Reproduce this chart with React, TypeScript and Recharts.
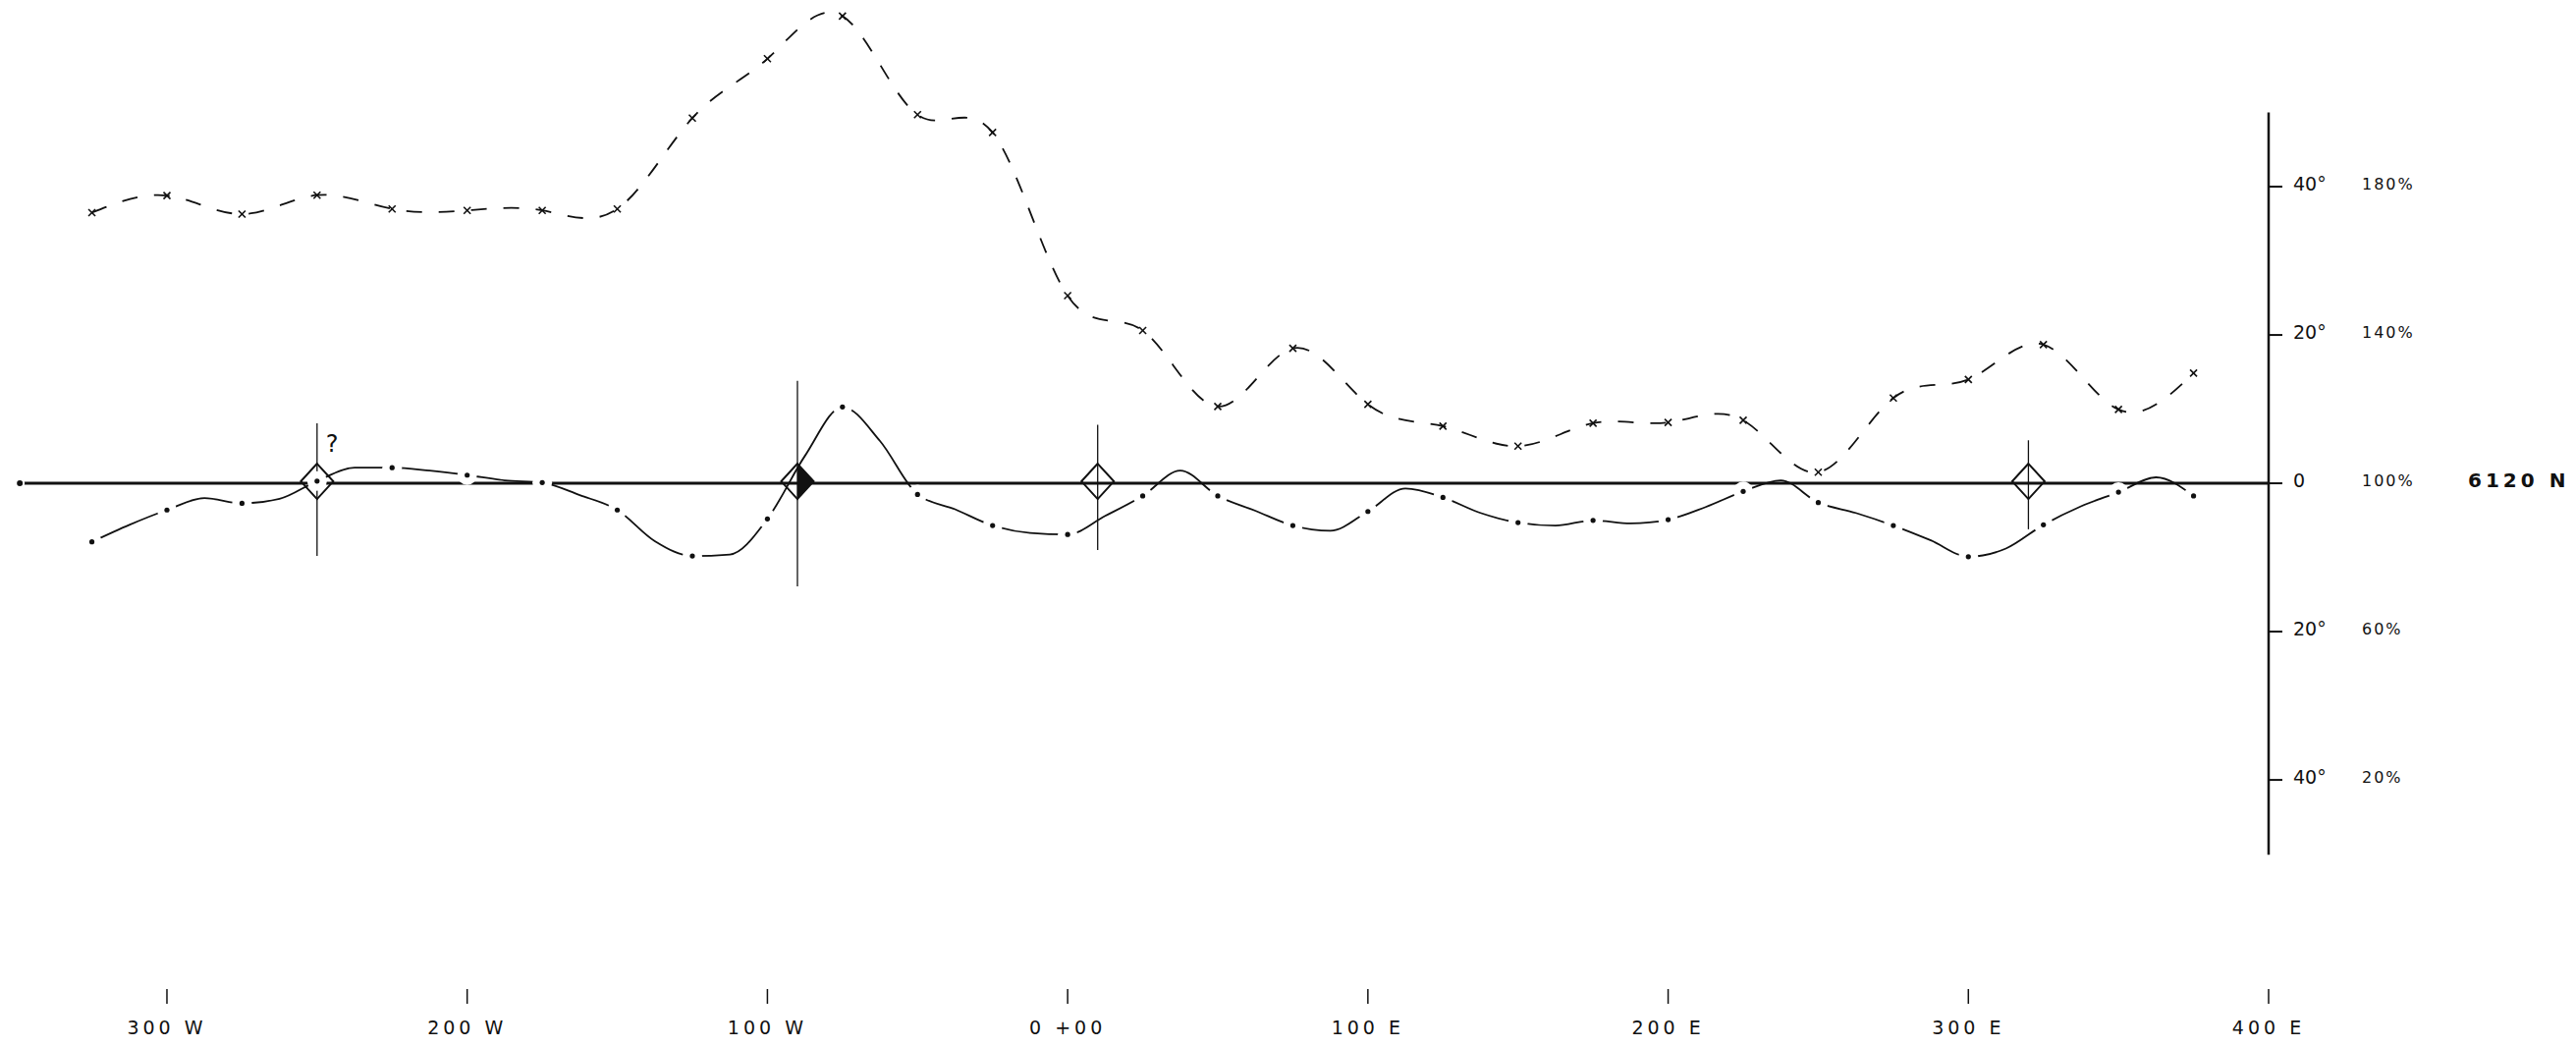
import React from "react"
import { ComposedChart, Line, Scatter, XAxis, YAxis, ReferenceLine, ReferenceDot } from "recharts"

// stations along line 6120 N (feet, west negative)
const stationTicks = [-300, -200, -100, 0, 100, 200, 300, 400]
const stationLabels = ["300 W", "200 W", "100 W", "0 +00", "100 E", "200 E", "300 E", "400 E"]

// field strength readings, percent
const fieldStations = [-325, -300, -275, -250, -225, -200, -175, -150, -125, -100, -75, -50, -25, 0, 25, 50, 75, 100, 125, 150, 175, 200, 225, 250, 275, 300, 325, 350, 375]
const fieldPct = [173, 177.6, 172.6, 177.7, 174, 173.6, 173.6, 174, 198.5, 214.5, 226, 199.4, 194.6, 150.6, 141.2, 120.7, 136.4, 121.3, 115.4, 110, 116.2, 116.4, 117, 103, 123, 128, 137.4, 119.9, 129.7]

// dip angle, degrees (readings every 25 ft, curve read at half stations too)
const dipStations = [-325, -312.5, -300, -287.5, -275, -262.5, -250, -237.5, -225, -212.5, -200, -187.5, -175, -162.5, -150, -137.5, -125, -112.5, -100, -87.5, -75, -62.5, -50, -37.5, -25, -12.5, 0, 12.5, 25, 37.5, 50, 62.5, 75, 87.5, 100, 112.5, 125, 137.5, 150, 162.5, 175, 187.5, 200, 212.5, 225, 237.5, 250, 262.5, 275, 287.5, 300, 312.5, 325, 337.5, 350, 362.5, 375]
const dipDeg = [-7.9, -5.6, -3.6, -2.0, -2.7, -2.1, 0.3, 2.1, 2.1, 1.7, 1.1, 0.4, 0.1, -1.6, -3.6, -7.8, -9.8, -9.6, -4.8, 3.7, 10.3, 5.7, -1.5, -3.5, -5.7, -6.7, -6.9, -4.4, -1.7, 1.7, -1.7, -3.7, -5.7, -6.4, -3.8, -0.7, -1.9, -4.0, -5.3, -5.7, -5.0, -5.4, -4.9, -3.2, -1.1, 0.4, -2.6, -4.0, -5.7, -7.7, -9.9, -8.8, -5.6, -3.1, -1.2, 0.8, -1.7]

// conductor axes: station, extent of the marker line (deg), solid marker
const axisStations = [-250, -90, 10, 320]
const axisTop = [8.1, 13.8, 7.9, 5.8]
const axisBottom = [-9.8, -13.9, -9.0, -6.2]
const axisFilled = [false, true, false, false]

// right hand scale
const scaleTicks = [40, 20, 0, -20, -40]
const degLabels = ["40°", "20°", "0", "20°", "40°"]
const pctLabels = ["180%", "140%", "100%", "60%", "20%"]
const lineName = "6120 N"

const DEG_DOMAIN: [number, number] = [-68.2, 65.17]
const PCT_DOMAIN: [number, number] = [100 + 2 * DEG_DOMAIN[0], 100 + 2 * DEG_DOMAIN[1]]
const X_DOMAIN: [number, number] = [-355.6, 400]

const INK = "#111"
const FONT = "'DejaVu Sans', sans-serif"

const fieldData = fieldStations.map((s, i) => ({ s, v: fieldPct[i] }))
const dipData = dipStations.map((s, i) => ({ s, v: dipDeg[i] }))
const zeroData = [{ s: -349, v: 0 }, { s: 400, v: 0 }]
const axisData = axisStations.map((s, i) => ({ s, v: 0, filled: axisFilled[i] }))

const StationTick = ({ x, y, payload }: any) => {
  const i = stationTicks.indexOf(payload.value)
  return (
    <text x={x} y={y + 31} textAnchor="middle" fontFamily={FONT} fontSize={19} letterSpacing={4} fill={INK}>
      {stationLabels[i]}
    </text>
  )
}

const ScaleTick = ({ x, y, payload }: any) => {
  const i = scaleTicks.indexOf(payload.value)
  return (
    <g fontFamily={FONT} fill={INK}>
      <text x={x + 11} y={y - 3} dominantBaseline="central" fontSize={19}>{degLabels[i]}</text>
      <text x={x + 81} y={y - 3} dominantBaseline="central" fontSize={16} letterSpacing={2}>{pctLabels[i]}</text>
      {payload.value === 0 && (
        <text x={x + 189} y={y - 3} dominantBaseline="central" fontSize={20} fontWeight="bold" letterSpacing={4}>
          {lineName}
        </text>
      )}
    </g>
  )
}

const Cross = ({ cx, cy }: any) => (
  <g stroke={INK} strokeWidth={1.6}>
    <line x1={cx - 3.5} y1={cy - 3.5} x2={cx + 3.5} y2={cy + 3.5} />
    <line x1={cx + 3.5} y1={cy - 3.5} x2={cx - 3.5} y2={cy + 3.5} />
  </g>
)

// reading dot with a break in the curve around it
const DipDot = ({ cx, cy, payload }: any) => {
  if (payload.s % 25 !== 0) return <g />
  return (
    <g>
      <circle cx={cx} cy={cy} r={10} fill="#fff" />
      <circle cx={cx} cy={cy} r={2.6} fill={INK} />
    </g>
  )
}

const Diamond = ({ cx, cy, payload }: any) => {
  const w = 16.5
  const h = 18
  const c = cy - 2
  return (
    <g>
      {payload.filled && <path d={`M${cx},${c - h} L${cx + w},${c} L${cx},${c + h} Z`} fill={INK} />}
      <path
        d={`M${cx},${c - h} L${cx + w},${c} L${cx},${c + h} L${cx - w},${c} Z`}
        fill="none"
        stroke={INK}
        strokeWidth={2}
      />
    </g>
  )
}

export default function App() {
  return (
    <div style={{ position: "absolute", left: 0, top: 0, width: 2623, height: 1066, background: "#fff" }}>
      <ComposedChart width={2623} height={1066} margin={{ top: 0, right: 0, bottom: 0, left: 0 }}>
        <XAxis
          dataKey="s"
          type="number"
          domain={X_DOMAIN}
          ticks={stationTicks}
          interval={0}
          height={59}
          axisLine={false}
          tickSize={15}
          tickMargin={0}
          tickLine={{ stroke: INK, strokeWidth: 1.5 }}
          tick={<StationTick />}
        />
        <YAxis
          yAxisId="deg"
          orientation="right"
          type="number"
          domain={DEG_DOMAIN}
          ticks={scaleTicks}
          interval={0}
          width={313}
          axisLine={false}
          tickSize={14}
          tickMargin={0}
          tickLine={{ stroke: INK, strokeWidth: 2 }}
          tick={<ScaleTick />}
        />
        <YAxis yAxisId="pct" type="number" domain={PCT_DOMAIN} hide />

        <ReferenceLine
          yAxisId="deg"
          segment={[{ x: 400, y: 50 }, { x: 400, y: -50.1 }]}
          stroke={INK}
          strokeWidth={2.5}
          ifOverflow="visible"
        />

        <Line
          yAxisId="pct"
          data={fieldData}
          dataKey="v"
          type="natural"
          stroke={INK}
          strokeWidth={1.8}
          strokeDasharray="16 17"
          dot={<Cross />}
          isAnimationActive={false}
        />
        <Line
          yAxisId="deg"
          data={dipData}
          dataKey="v"
          type="monotoneX"
          stroke={INK}
          strokeWidth={1.8}
          dot={<DipDot />}
          isAnimationActive={false}
        />
        <Line
          yAxisId="deg"
          data={zeroData}
          dataKey="v"
          stroke={INK}
          strokeWidth={3}
          dot={false}
          isAnimationActive={false}
        />
        {axisStations.map((s, i) => (
          <Line
            key={s}
            yAxisId="deg"
            data={[{ s, v: axisTop[i] }, { s, v: axisBottom[i] }]}
            dataKey="v"
            stroke={INK}
            strokeWidth={1.3}
            dot={false}
            isAnimationActive={false}
          />
        ))}
        <Scatter yAxisId="deg" data={axisData} dataKey="v" shape={<Diamond />} isAnimationActive={false} />

        <ReferenceDot
          yAxisId="deg"
          x={-245}
          y={5.3}
          r={0}
          shape={(p: any) => (
            <text x={p.cx} y={p.cy} textAnchor="middle" dominantBaseline="central" fontFamily={FONT} fontSize={24} fill={INK}>
              ?
            </text>
          )}
        />
      </ComposedChart>
    </div>
  )
}
